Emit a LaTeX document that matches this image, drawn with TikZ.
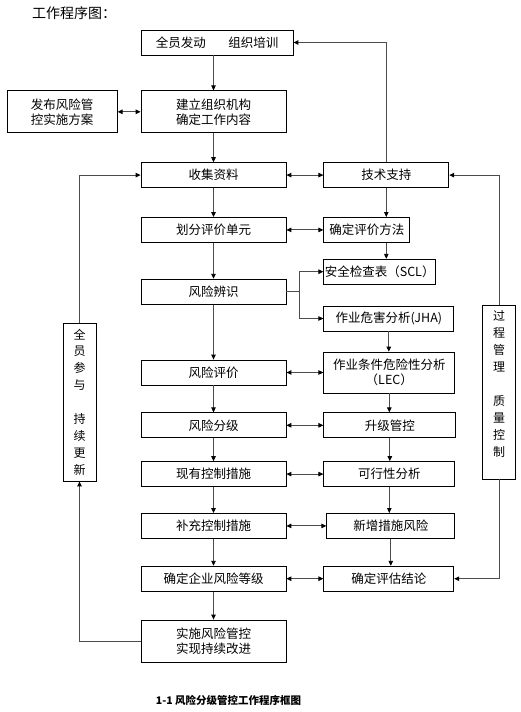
\documentclass[tikz,border=0pt]{standalone}
\usepackage{fontspec}
\setmainfont{Noto Sans CJK SC}
\usetikzlibrary{positioning,arrows.meta}

\tikzset{
  box/.style={draw, line width=0.8pt, minimum width=145pt, minimum height=25pt,
    inner sep=1pt, align=center, font=\fontsize{12.5}{15}\selectfont},
  bar/.style={draw, line width=0.8pt, minimum width=33pt, inner sep=1pt,
    align=center, font=\fontsize{12}{16.9}\selectfont},
  tip/.tip={Triangle[length=5pt,width=4.5pt,color=black]},
  arr/.style={draw=black!70, line width=0.9pt, -tip},
  darr/.style={draw=black!70, line width=0.9pt, tip-tip},
}

\begin{document}
\begin{tikzpicture}[x=1pt,y=-1pt]
    \useasboundingbox (0,0) rectangle (520,712);

    \node[anchor=west, inner sep=0pt, font=\fontsize{14}{17}\selectfont] (title) at (32,13) {工作程序图：};

    \node[box, minimum width=152pt] (start) at (217,42.5) {全员发动\hspace{1.8em}组织培训};
    \node[box, minimum height=42pt, below=35pt of start.south west, anchor=north west] (org) {建立组织机构\\确定工作内容};
    \node[box, below=29pt of org.south west, anchor=north west] (collect) {收集资料};
    \node[box, below=29pt of collect.south west, anchor=north west] (divide) {划分评价单元};
    \node[box, below=36pt of divide.south west, anchor=north west] (identify) {风险辨识};
    \node[box, below=55pt of identify.south west, anchor=north west] (evaluate) {风险评价};
    \node[box, below=27pt of evaluate.south west, anchor=north west] (grade) {风险分级};
    \node[box, below=23pt of grade.south west, anchor=north west] (existing) {现有控制措施};
    \node[box, below=26pt of existing.south west, anchor=north west] (supplement) {补充控制措施};
    \node[box, below=27pt of supplement.south west, anchor=north west] (level) {确定企业风险等级};
    \node[box, minimum height=42pt, below=28pt of level.south west, anchor=north west] (implement) {实施风险管控\\实现持续改进};

    \node[box, minimum width=110pt, minimum height=42pt, left=23pt of org] (publish) {发布风险管\\控实施方案};

    \node[box, minimum width=125pt, right=37pt of collect] (tech) {技术支持};
    \node[box, minimum width=86pt, right=37pt of divide] (method) {确定评价方法};
    \node[box, minimum width=86pt, below=16pt of method.south west, anchor=north west] (scl) {安全检查表（SCL）};
    \node[box, minimum width=130pt, below=21pt of scl.south west, anchor=north west] (jha) {作业危害分析(JHA)};
    \node[box, minimum width=131pt, minimum height=41pt, right=37pt of evaluate] (lec) {作业条件危险性分析\\（LEC）};
    \node[box, minimum width=132pt, right=37pt of grade] (upgrade) {升级管控};
    \node[box, minimum width=131pt, right=37pt of existing] (feasible) {可行性分析};
    \node[box, minimum width=128pt, right=40pt of supplement] (newrisk) {新增措施风险};
    \node[box, minimum width=130pt, right=37pt of level] (conclusion) {确定评估结论};

    \node[bar, minimum height=158pt] (partic) at (79.5,402) {全\\员\\参\\与\\\mbox{}\\持\\续\\更\\新};
    \node[bar, minimum height=174pt] (quality) at (499,392) {过\\程\\管\\理\\\mbox{}\\质\\量\\控\\制\\\mbox{}};

    \node[inner sep=0pt, font=\fontsize{10.5}{12}\selectfont\bfseries] (caption) at (228.5,700) {1-1 风险分级管控工作程序框图};

    \draw[arr] (start.south -| org.north) -- (org.north);
    \draw[arr] (org) -- (collect);
    \draw[arr] (collect) -- (divide);
    \draw[arr] (divide) -- (identify);
    \draw[arr] (identify) -- (evaluate);
    \draw[arr] (evaluate) -- (grade);
    \draw[arr] (grade) -- (existing);
    \draw[arr] (existing) -- (supplement);
    \draw[arr] (supplement) -- (level);
    \draw[arr] (level) -- (implement);

    \draw[darr] (publish) -- (org);
    \draw[darr] (collect) -- (tech);
    \draw[darr] (divide) -- (method);
    \draw[darr] (evaluate) -- (lec);
    \draw[darr] (grade) -- (upgrade);
    \draw[darr] (existing) -- (feasible);
    \draw[darr] (supplement) -- (newrisk);
    \draw[darr] (level) -- (conclusion);

    \draw[arr] (tech.south) -- (tech.south |- method.north);
    \draw[arr] (tech.south |- method.south) -- (tech.south |- scl.north);
    \draw[arr] (identify.east) -- ++(13,0) |- (scl.west);
    \draw[arr] (identify.east) -- ++(13,0) |- (jha.west);
    \draw[arr] (jha.south) -- (jha.south |- lec.north);
    \draw[arr] (lec.south) -- (lec.south |- upgrade.north);
    \draw[arr] (upgrade.south) -- (upgrade.south |- feasible.north);
    \draw[arr] (feasible.south) -- (feasible.south |- newrisk.north);
    \draw[arr] (newrisk.south) -- (newrisk.south |- conclusion.north);

    \draw[arr] (tech.north) |- (start.east);
    \draw[arr] (quality.north) |- (tech.east);
    \draw[arr] (quality.south) |- (conclusion.east);
    \draw[arr] (partic.north) |- (collect.west);
    \draw[arr] (implement.west) -| (partic.south);
\end{tikzpicture}
\end{document}
